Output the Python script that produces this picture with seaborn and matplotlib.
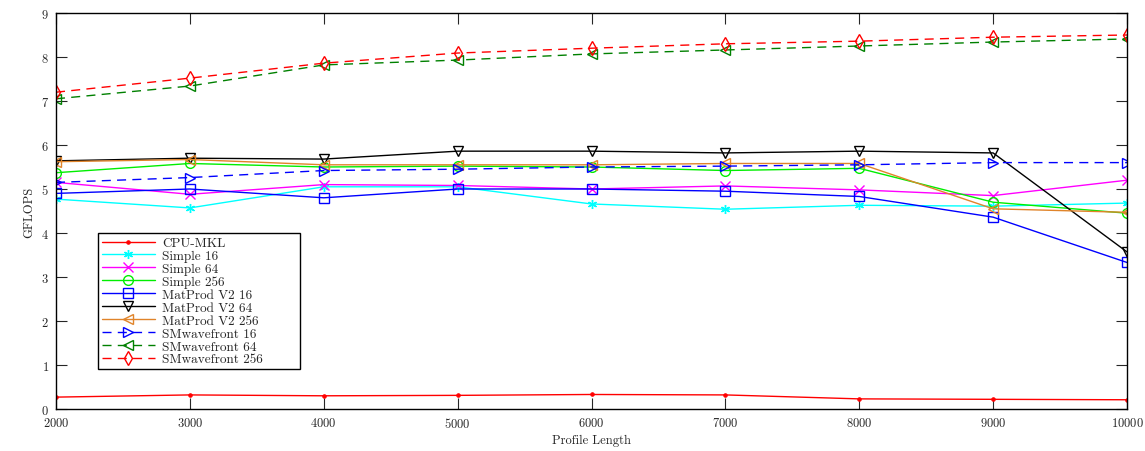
import matplotlib
matplotlib.use("Agg")
import matplotlib.pyplot as plt
import seaborn as sns
import pandas as pd

profile_length = [2000, 3000, 4000, 5000, 6000, 7000, 8000, 9000, 10000]

cpu_mkl = [0.27, 0.32, 0.30, 0.31, 0.33, 0.32, 0.23, 0.22, 0.21]
simple_16 = [4.77, 4.57, 5.05, 5.05, 4.66, 4.54, 4.63, 4.61, 4.68]
simple_64 = [5.15, 4.88, 5.10, 5.08, 5.00, 5.07, 4.98, 4.85, 5.20]
simple_256 = [5.37, 5.58, 5.50, 5.52, 5.50, 5.42, 5.47, 4.70, 4.45]
matprod_16 = [4.90, 5.00, 4.80, 5.00, 5.00, 4.95, 4.83, 4.36, 3.33]
matprod_64 = [5.64, 5.70, 5.68, 5.86, 5.86, 5.82, 5.86, 5.82, 3.57]
matprod_256 = [5.62, 5.67, 5.55, 5.55, 5.55, 5.58, 5.58, 4.55, 4.47]
smwave_16 = [5.15, 5.26, 5.42, 5.45, 5.50, 5.52, 5.55, 5.60, 5.60]
smwave_64 = [7.05, 7.34, 7.82, 7.93, 8.07, 8.16, 8.25, 8.34, 8.41]
smwave_256 = [7.20, 7.52, 7.86, 8.09, 8.20, 8.30, 8.36, 8.45, 8.50]

asterisk = (6, 2, 0)

series = [
    ("CPU-MKL", cpu_mkl, "#ff0000", ".", "-"),
    ("Simple 16", simple_16, "#00ffff", asterisk, "-"),
    ("Simple 64", simple_64, "#ff00ff", "x", "-"),
    ("Simple 256", simple_256, "#00ee00", "o", "-"),
    ("MatProd V2 16", matprod_16, "#0000ff", "s", "-"),
    ("MatProd V2 64", matprod_64, "#000000", "v", "-"),
    ("MatProd V2 256", matprod_256, "#e0842a", "<", "-"),
    ("SMwavefront 16", smwave_16, "#0000ff", ">", "--"),
    ("SMwavefront 64", smwave_64, "#008000", "<", "--"),
    ("SMwavefront 256", smwave_256, "#ff0000", "d", "--"),
]

sns.set_style("ticks")
plt.rcParams["font.family"] = "serif"
plt.rcParams["font.serif"] = ["cmr10", "DejaVu Serif"]
plt.rcParams["mathtext.fontset"] = "cm"
plt.rcParams["axes.formatter.use_mathtext"] = True

fig = plt.figure(figsize=(11.45, 4.52), dpi=100)
ax = fig.add_axes([56 / 1145, 42 / 452, (1127 - 56) / 1145, (410 - 14) / 452])

for name, vals, color, marker, ls in series:
    df = pd.DataFrame({"x": profile_length, "y": vals})
    if marker == ".":
        kw = dict(markerfacecolor=color, markeredgecolor=color, markersize=5)
    elif marker == asterisk or marker == "x":
        kw = dict(markerfacecolor=color, markeredgecolor=color, markersize=6.5,
                  markeredgewidth=1.0)
    else:
        kw = dict(markerfacecolor="none", markeredgecolor=color, markersize=7,
                  markeredgewidth=1.0)
    if ls == "--":
        kw["dashes"] = (6.5, 4.5)
    sns.lineplot(data=df, x="x", y="y", ax=ax, color=color, marker=marker,
                 linewidth=1.0, label=name, **kw)

ax.set_xlim(2000, 10000)
ax.set_ylim(0, 9)
ax.set_xticks(profile_length)
ax.set_yticks(range(0, 10))
ax.set_xlabel("Profile Length", fontsize=9, labelpad=3)
ax.set_ylabel("GFLOPS", fontsize=9)
ax.tick_params(direction="in", length=8, width=0.8, top=True, right=True,
               labelsize=9)
ax.tick_params(axis="x", pad=5)
ax.tick_params(axis="y", pad=5)
for s in ax.spines.values():
    s.set_linewidth(1.0)
    s.set_color("black")

leg = ax.legend(loc="lower left",
                bbox_to_anchor=(0.039, 0.10, (300 - 98) / 1071, 0.355),
                mode="expand", fontsize=9.5,
                frameon=True, fancybox=False, edgecolor="black",
                handlelength=4.0, labelspacing=0.05, borderaxespad=0,
                borderpad=0.3, handletextpad=0.6)
leg.get_frame().set_linewidth(1.0)
leg.get_frame().set_alpha(1)

fig.savefig("out.png", dpi=100)
